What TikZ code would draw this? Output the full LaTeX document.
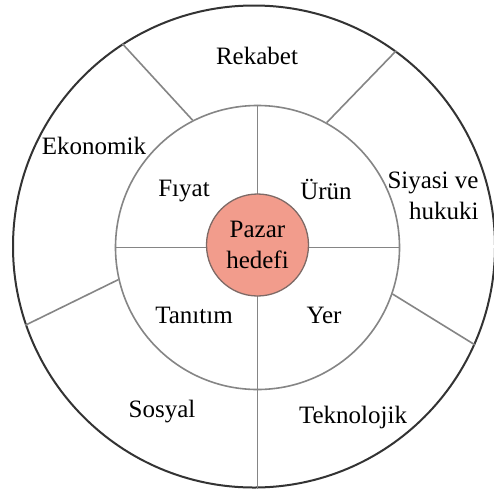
\documentclass[tikz,border=0pt]{standalone}
\usepackage{fontspec}
\setmainfont{Liberation Serif}
\definecolor{ringdark}{HTML}{333333}
\definecolor{ringgray}{HTML}{858585}
\definecolor{corefill}{HTML}{F29C8C}
\definecolor{coreedge}{HTML}{7E6A66}
\begin{document}
\begin{tikzpicture}[x=1pt,y=-1pt,
  ring/.style={circle,inner sep=0pt,draw},
  divider/.style={draw=ringgray,line width=1.6pt},
  lbl/.style={font=\fontsize{25}{31}\selectfont,text=black,inner sep=0pt}]
\useasboundingbox (0,0) rectangle (494,490);
\fill[white] (0,0) rectangle (494,490);
% rings
\node[ring,draw=ringdark,line width=2pt,minimum size=482pt] (outer) at (254,246.5) {};
\node[ring,draw=ringgray,line width=1.6pt,minimum size=284pt] (mid) at (257.5,247.5) {};
% dividers
\path[divider] (mid.90) -- (mid.270);
\path[divider] (mid.180) -- (mid.0);
\path[divider] (mid.270) -- (mid.270 |- outer.south);
\path[divider] (mid.117.5) -- (outer.123.7);
\path[divider] (mid.61.8) -- (outer.54.4);
\path[divider] (mid.193.3) -- (outer.199.7);
\path[divider] (mid.341.3) -- (outer.336.5);
% core
\node[ring,draw=coreedge,line width=1.3pt,fill=corefill,minimum size=102pt,
  lbl,align=center] (core) at (257.5,245) {Pazar\\hedefi};
% inner labels
\node[lbl] (fiyat) at (184,191) {Fıyat};
\node[lbl] (urun) at (326,189) {Ürün};
\node[lbl] (tanitim) at (194,315) {Tanıtım};
\node[lbl] (yer) at (324,315) {Yer};
% outer labels
\node[lbl] (rekabet) at (257,56) {Rekabet};
\node[lbl] (ekonomik) at (94,146) {Ekonomik};
\node[lbl,align=right] (siyasi) at (433,196) {Siyasi ve\\hukuki};
\node[lbl] (sosyal) at (162,412) {Sosyal};
\node[lbl] (teknolojik) at (353,417) {Teknolojik};
\end{tikzpicture}
\end{document}
